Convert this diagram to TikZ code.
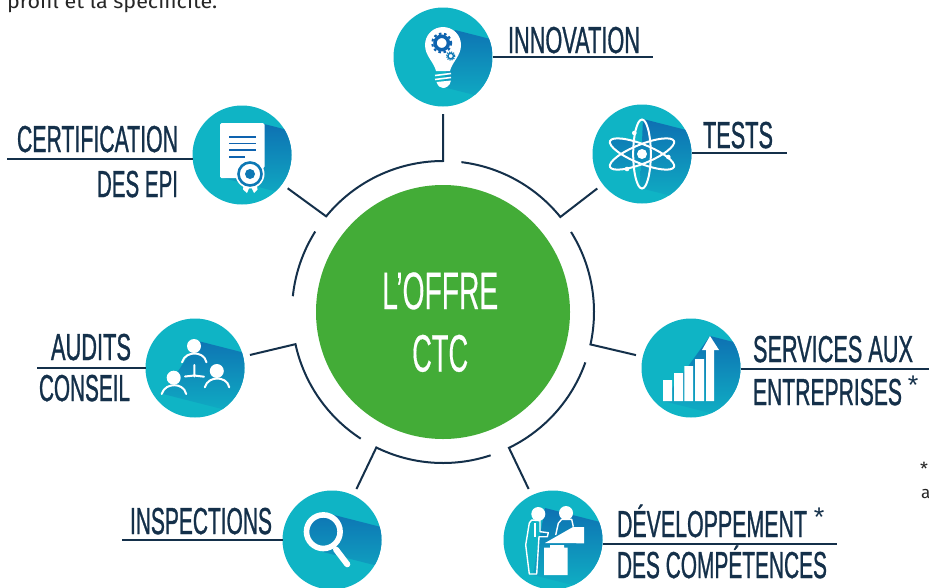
\documentclass[tikz,border=0pt]{standalone}
\usepackage{fontspec}
\usepackage{graphicx}
\usetikzlibrary{calc}
\setmainfont{Liberation Sans}
\newfontface\lblfont{Liberation Sans}[FakeBold=1.2]
\newfontface\thinfont{Liberation Sans}
\newfontface\centrefont{Liberation Sans}[FakeBold=0.5]
\newfontface\bodyfont{Fira Sans}
\definecolor{navy}{HTML}{14304A}
\definecolor{tealA}{HTML}{0FB4C5}
\definecolor{blueA}{HTML}{0E63AF}
\definecolor{blueB}{HTML}{0D78B4}
\definecolor{tealB}{HTML}{0FADC3}
\definecolor{greenA}{HTML}{43AC37}
\newcommand{\fitw}[2]{\resizebox{#1pt}{\height}{#2}}
\newcommand{\ringcoord}[2]{\coordinate (#1) at ({443+151*cos(#2)},{312-151*sin(#2)});}
\newcommand{\shadowin}[2]{\begin{scope}\clip (#1) circle[radius=49.5];\clip #2;
  \shade[top color=blueA,middle color=blueB,bottom color=tealB] ($(#1)+(-50,-50)$) rectangle ($(#1)+(50,45)$);\end{scope}}
\newcommand{\bandin}[5]{\shadowin{#1}{(#2,#3) -- ({#2+110},{#3+28}) -- ({#4+110},{#5+28}) -- (#4,#5) -- cycle}}
\newcommand{\personshape}[2]{\fill[white] (#1,#2) circle[radius=7];
  \draw[icw,shift={(#1,#2)}] (-12,16.3) .. controls (-10,9.5) and (-4,7.5) .. (0.5,7.5) .. controls (5,7.5) and (11,9.5) .. (12.5,16.3);}
\tikzset{
  icon/.style={circle,fill=tealA,minimum size=99pt,inner sep=0pt,outer sep=0pt},
  ringline/.style={draw=navy,line width=2pt,line join=miter},
  rulel/.style={draw=navy,line width=1.2pt},
  lbl/.style={text=navy,inner sep=0pt,outer sep=0pt,anchor=base west,font=\lblfont\fontsize{37.5}{40}\selectfont},
  lblr/.style={lbl,anchor=base east},
  star/.style={text=navy,inner sep=0pt,font=\thinfont\fontsize{27}{27}\selectfont},
  centre/.style={text=white,inner sep=0pt,anchor=base west,font=\centrefont\fontsize{52.6}{56}\selectfont},
  body/.style={text=black!85,inner sep=0pt,anchor=base west,font=\bodyfont\fontsize{20}{22}\selectfont},
  icw/.style={draw=white,line width=2pt,line cap=round},
}
\begin{document}
\begin{tikzpicture}[x=1pt,y=-1pt]
\clip (0,0) rectangle (929,587);
\fill[white] (0,0) rectangle (929,587);
% centre
\node[circle,fill=greenA,minimum size=254pt,inner sep=0pt] (offre) at (443,312) {};
\node[centre] (offreA) at (382,309) {\fitw{116}{L’OFFRE}};
\node[centre] (offreB) at (412,371.5) {\fitw{56}{CTC}};
% icons
\node[icon] (innovation) at (443,57) {};
\node[icon] (tests) at (642,154) {};
\node[icon] (certif) at (242,155) {};
\node[icon] (audits) at (195,368) {};
\node[icon] (inspect) at (332,540) {};
\node[icon] (devel) at (553,540) {};
\node[icon] (services) at (691,368) {};
% ring
\ringcoord{cInnov}{90}
\ringcoord{cCert}{140.7}
\ringcoord{cAud}{192.3}
\ringcoord{cIns}{243.8}
\ringcoord{cDev}{295.9}
\ringcoord{cServ}{-12.4}
\ringcoord{cTests}{39}
\draw[ringline,shorten <=7.5pt,shorten >=7pt] (innovation) -- (cInnov) -- plot[domain=90:140.7,samples=40] ({443+151*cos(\x)},{312-151*sin(\x)}) -- (cCert) -- (certif);
\draw[ringline] plot[domain=147.8:174,samples=30] ({443+151*cos(\x)},{312-151*sin(\x)});
\draw[ringline,shorten <=7pt] (audits) -- (cAud) -- plot[domain=192.3:237,samples=40] ({443+151*cos(\x)},{312-151*sin(\x)});
\draw[ringline,shorten <=7pt] (inspect) -- (cIns) -- plot[domain=243.8:288.4,samples=40] ({443+151*cos(\x)},{312-151*sin(\x)});
\draw[ringline,shorten <=7pt] (devel) -- (cDev) -- plot[domain=295.9:340.5,samples=40] ({443+151*cos(\x)},{312-151*sin(\x)});
\draw[ringline,shorten <=7pt] (services) -- (cServ) -- plot[domain=-12.4:32,samples=40] ({443+151*cos(\x)},{312-151*sin(\x)});
\draw[ringline,shorten <=7pt] (tests) -- (cTests) -- plot[domain=39:83,samples=40] ({443+151*cos(\x)},{312-151*sin(\x)});
% rules
\coordinate (rInnov) at (653,57);
\coordinate (rTests) at (787,153);
\coordinate (rCert) at (7,159);
\coordinate (rAud) at (37,368);
\coordinate (rIns) at (122,540);
\coordinate (rServ) at (929,369);
\coordinate (rDev) at (837,544);
\draw[rulel] (innovation.east |- rInnov) -- (rInnov);
\draw[rulel] (tests.east |- rTests) -- (rTests);
\draw[rulel] (certif.west |- rCert) -- (rCert);
\draw[rulel] (audits.west |- rAud) -- (rAud);
\draw[rulel] (inspect.west |- rIns) -- (rIns);
\draw[rulel] (services.east |- rServ) -- (rServ);
\draw[rulel] (devel.east |- rDev) -- (rDev);
% labels
\node[lbl] (tInnov) at (508,53) {\fitw{132}{INNOVATION}};
\node[lbl] (tTests) at (703,148) {\fitw{70}{TESTS}};
\node[lblr] (tCertA) at (178,152) {\fitw{161}{CERTIFICATION}};
\node[lblr] (tCertB) at (178,197) {\fitw{81}{DES EPI}};
\node[lblr] (tAudA) at (131,360) {\fitw{80}{AUDITS}};
\node[lblr] (tAudB) at (130,401) {\fitw{91}{CONSEIL}};
\node[lbl] (tIns) at (130,534) {\fitw{142}{INSPECTIONS}};
\node[lbl] (tServA) at (753,362) {\fitw{160}{SERVICES AUX}};
\node[lbl] (tServB) at (753,405) {\fitw{149}{ENTREPRISES}};
\node[star] (sServ) at (913,385) {*};
\node[lbl] (tDevA) at (617,537) {\fitw{190}{DÉVELOPPEMENT}};
\node[star] (sDev) at (819,517) {*};
\node[lbl] (tDevB) at (617,578) {\fitw{210}{DES COMPÉTENCES}};
% body fragments
\node[body] (bodyA) at (7,8) {\fitw{210}{profil et la spécificité.}};
\node[body] (bodyB) at (920,475) {\fontsize{18}{18}\selectfont *};
\node[body] (bodyC) at (921,498) {\fontsize{17}{17}\selectfont a};
% --- innovation icon
\bandin{innovation}{455}{30}{443}{87}
\shadowin{innovation}{(443,45) circle[radius=18]}
\fill[white] (436,71) .. controls (434,62) and (425,56) .. (425,45) .. controls (425,35) and (433,27) .. (443,27) .. controls (453,27) and (461,35) .. (461,45) .. controls (461,56) and (452,62) .. (450,71) -- cycle;
\draw[white,line width=1.6pt] (435,75.5) -- (451,73.5) (435,79.5) -- (451,77.5);
\fill[white] (436.5,82) -- (451,80.5) .. controls (450,86) and (446,88) .. (443,88) .. controls (440,88) and (438,86) .. (436.5,82) -- cycle;
\draw[blueA,line width=3.5pt] (441.7,43) circle[radius=6.7];
\draw[blueA,line width=2pt,dash pattern=on 2.6pt off 2.6pt] (441.7,43) circle[radius=9.5];
\draw[blueB,line width=1.4pt] (450.7,56) circle[radius=2.8];
\draw[blueB,line width=1.2pt,dash pattern=on 1.1pt off 1.1pt] (450.7,56) circle[radius=4.2];
% --- tests icon
\bandin{tests}{643}{119}{640}{188}
\shadowin{tests}{[rotate around={22:(642,154)}] (642,154) ellipse[x radius=34.5,y radius=9.5]}
\shadowin{tests}{[rotate around={-22:(642,154)}] (642,154) ellipse[x radius=34.5,y radius=9.5]}
\draw[white,line width=2pt] (642,154) ellipse[x radius=8.8,y radius=34.5];
\draw[white,line width=2pt,rotate around={22:(642,154)}] (642,154) ellipse[x radius=34.5,y radius=9.5];
\draw[white,line width=2pt,rotate around={-22:(642,154)}] (642,154) ellipse[x radius=34.5,y radius=9.5];
\fill[white] (642,154) circle[radius=5];
\fill[white] (634.3,133) circle[radius=2.3] (668.3,157) circle[radius=2.3] (627,169) circle[radius=2.3];
% --- certification icon
\bandin{certif}{264}{124}{223}{178}
\fill[white,rounded corners=1.5pt] (220,123) -- (264.5,123) -- (264.5,168) -- (240,178) -- (220,178) -- cycle;
\draw[blueA,line width=1.7pt] (229,137) -- (256,137) (229,143.5) -- (256,143.5) (229,150) -- (256,150) (229,157) -- (245,157);
\fill[white] (244,182) -- (250,186) -- (247,193) -- (243,189.5) -- cycle;
\fill[white] (256.5,182) -- (250.5,186) -- (254,193) -- (257.5,189.5) -- cycle;
\fill[white] (250,174) circle[radius=14.5];
\draw[blueB,line width=2.6pt] (250,174) circle[radius=11.5];
\fill[blueB] (250,174) circle[radius=5];
% --- audits icon
\bandin{audits}{198}{341}{163}{394}
\personshape{194}{346}
\personshape{173.7}{377.7}
\personshape{216.8}{371}
\draw[icw] (194.3,365) -- (194.3,376.5) (185,376.5) -- (194.3,375.5) -- (204,376.7);
% --- inspections icon
\bandin{inspect}{330}{514}{323}{552}
\shadowin{inspect}{(323.3,531.7) circle[radius=17]}
\draw[white,line width=5.6pt] (323.3,531.7) circle[radius=16.8];
\draw[white,line width=6pt,line cap=round] (336,549.5) -- (347.3,564.3);
% --- services icon
\bandin{services}{710}{336}{663}{401}
\fill[white] (663,380) rectangle (672,401) (674,373) rectangle (683,401) (684.3,366) rectangle (693,401) (695,359) rectangle (704,401) (706,350) rectangle (714,401);
\fill[white] (710,336) -- (719,350) -- (702,350) -- cycle;
% --- development icon
\bandin{devel}{545}{508}{533}{575}
\fill[white] (538.3,514) circle[radius=7] (566,513) circle[radius=7];
\draw[white,line width=1.4pt,line join=round] (531.7,520) -- (540,520.7) -- (540,531.7) -- (548.3,532.7) -- (547.3,536.7) -- (539,536.7) -- (536.7,574) -- (529.3,574) -- (525.7,545) -- (529.3,523) -- cycle;
\draw[white,line width=1.4pt] (535,523) -- (535,536.7);
\draw[white,line width=1.4pt,line join=round] (555.7,535) -- (558.3,523.3) -- (561.7,519.3) -- (571.7,519.3) -- (573.3,526.7);
\fill[white] (545,543) -- (573,527) -- (584,527) -- (584,543.3) -- cycle;
\fill[white] (544,547.7) rectangle (567.7,575) (550,545) rectangle (564,547.7);
\end{tikzpicture}
\end{document}
